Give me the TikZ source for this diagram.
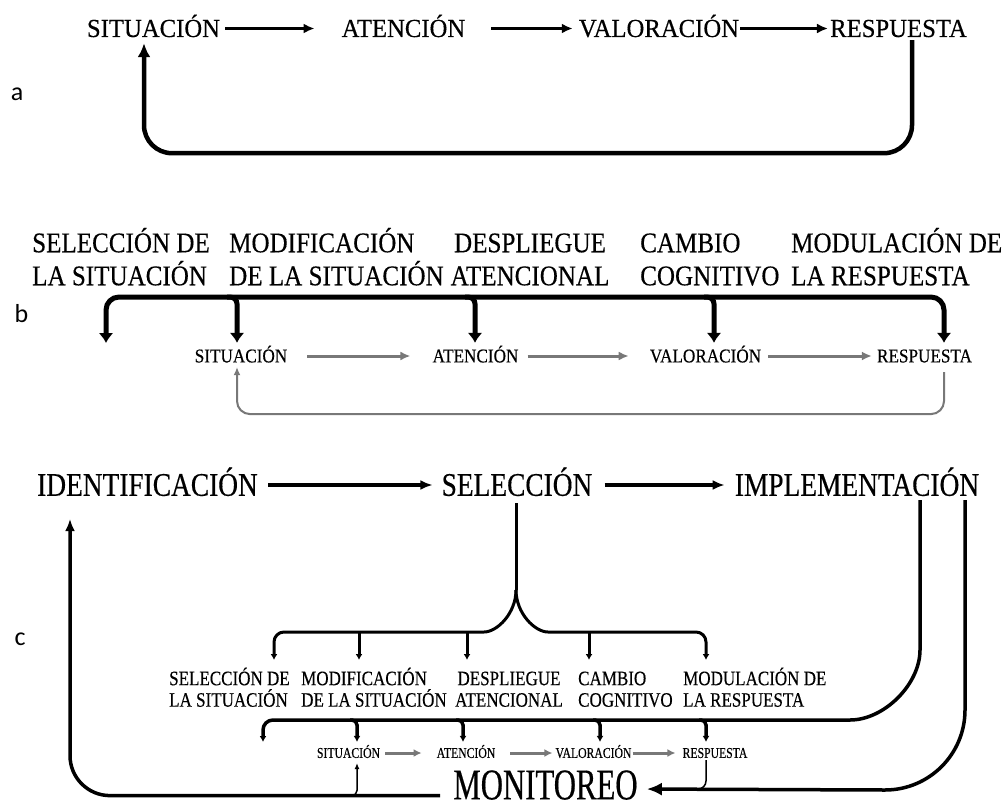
\documentclass[tikz,border=0pt]{standalone}
\usepackage{fontspec}
\usetikzlibrary{arrows.meta}
\newfontfamily\serifA[FakeStretch=0.95,FakeBold=0.35]{Liberation Serif}
\newfontfamily\serifB[FakeStretch=0.88,FakeBold=0.35]{Liberation Serif}
\newfontfamily\serifL[FakeStretch=0.83,FakeBold=0.35]{Liberation Serif}
\newfontfamily\serifC[FakeStretch=0.83,FakeBold=0.35]{Liberation Serif}
\newfontfamily\serifD[FakeStretch=0.78,FakeBold=0.35]{Liberation Serif}
\newfontfamily\serifM[FakeStretch=0.70,FakeBold=0.35]{Liberation Serif}
\newfontfamily\panelfont{Carlito}
\definecolor{arrowgray}{RGB}{120,120,120}
\newcommand\lblstrut{\rule{0pt}{0.95em}}

\begin{document}
\begin{tikzpicture}[x=1pt, y=-1pt,
   txtA/.style={font={\serifA\fontsize{26}{28}\selectfont}, inner sep=0pt, text height=17pt, text depth=0pt},
   lblB/.style={font={\serifB\fontsize{28.5}{33}\selectfont\lineskiplimit=-100pt}, inner sep=0pt,
                align=left, anchor=north west},
   smallB/.style={font={\serifB\fontsize{19.5}{21}\selectfont}, inner sep=0pt, text height=12.8pt, text depth=0pt},
   txtC/.style={font={\serifC\fontsize{33}{35}\selectfont}, inner sep=0pt, text height=21.6pt, text depth=0pt},
   lblC/.style={font={\serifL\fontsize{20.5}{21.5}\selectfont\lineskiplimit=-100pt}, inner sep=0pt,
                align=left, anchor=north west},
   smallC/.style={font={\serifD\fontsize{15}{16}\selectfont}, inner sep=0pt, text height=9.8pt, text depth=0pt},
   monitor/.style={font={\serifM\fontsize{44}{46}\selectfont}, inner sep=0pt, text height=28.8pt, text depth=0pt},
   panel/.style={font={\panelfont\fontsize{26}{28}\selectfont}, inner sep=0pt, anchor=base},
   flowA/.style={line width=3.5pt, -{Latex[length=11pt,width=10pt]}},
   loopA/.style={line width=4.5pt, -{Latex[length=14pt,width=13pt]}},
   thickbar/.style={line width=5pt},
   flowB/.style={color=arrowgray, line width=3pt, -{Latex[length=10pt,width=9pt]}},
   feedB/.style={color=arrowgray, line width=2pt, -{Latex[length=8pt,width=7pt]}},
   flowC/.style={line width=3.5pt, -{Latex[length=12pt,width=10pt]}},
   braceC/.style={line width=3pt},
   barC/.style={line width=3.5pt},
   loopC/.style={line width=3.5pt},
   flowCs/.style={color=arrowgray, line width=3pt, -{Latex[length=8pt,width=8pt]}},
   thinC/.style={line width=1.5pt}]

   \useasboundingbox[fill=white] (0,0) rectangle (1003,808);

   % a
   \node[panel] (tagA) at (17,100) {a};
   \node[txtA] (sitA) at (153.5,28.5) {SITUACIÓN};
   \node[txtA] (atenA) at (403.5,28.5) {ATENCIÓN};
   \node[txtA] (valA) at (659,28.5) {VALORACIÓN};
   \node[txtA] (respA) at (898.5,28.5) {RESPUESTA};

   \draw[flowA, shorten <=5pt, shorten >=27pt] (sitA) -- (atenA);
   \draw[flowA, shorten <=26pt, shorten >=6pt] (atenA) -- (valA);
   \draw[flowA, shorten <=1pt, shorten >=2pt] (valA) -- (respA);
   \draw[loopA, rounded corners=28pt] ([xshift=13.5pt,yshift=-3pt]respA.south)
      -- ++(0,113) -| ([xshift=-9.5pt,yshift=-6pt]sitA.south);

   % b
   \node[panel] (tagB) at (21.5,322) {b};
   \node[lblB] (selB) at (32,225) {\lblstrut SELECCIÓN DE\\LA SITUACIÓN};
   \node[lblB] (modB) at (229,225) {\lblstrut MODIFICACIÓN\\DE LA SITUACIÓN};
   \node[lblB, align=center, anchor=north] (desB) at (530,225) {\lblstrut DESPLIEGUE\\ATENCIONAL};
   \node[lblB] (camB) at (640,225) {\lblstrut CAMBIO\\COGNITIVO};
   \node[lblB] (modulB) at (791,225) {\lblstrut MODULACIÓN DE\\LA RESPUESTA};

   \node[smallB] (sitB) at (241,356) {SITUACIÓN};
   \node[smallB] (atenB) at (475.5,356) {ATENCIÓN};
   \node[smallB] (valB) at (705.5,356) {VALORACIÓN};
   \node[smallB] (respB) at (924.5,356) {RESPUESTA};

   \coordinate (barB) at (0,297);
   \coordinate (freeB) at (106,343);
   \draw[thickbar, {Latex[length=10pt,width=15pt]}-{Latex[length=10pt,width=15pt]}, rounded corners=13pt]
      (freeB) |- ([xshift=19.5pt]respB.north |- barB) -- ([xshift=19.5pt,yshift=6.6pt]respB.north);
   \foreach \n/\dx in {sitB/-4, atenB/-0.5, valB/8.5}
      \draw[thickbar, -{Latex[length=10pt,width=15pt]}, rounded corners=7pt]
         ([xshift={(\dx-10)*1pt}]\n.north |- barB) -| ([xshift={\dx*1pt},yshift=6.6pt]\n.north);

   \draw[flowB, shorten <=20pt, shorten >=22pt] (sitB) -- (atenB);
   \draw[flowB, shorten <=9pt, shorten >=21pt] (atenB) -- (valB);
   \draw[flowB, shorten <=7pt, shorten >=5pt] (valB) -- (respB);
   \draw[feedB, rounded corners=13pt] ([xshift=19.5pt,yshift=-9.5pt]respB.south)
      -- ++(0,42) -| ([xshift=-4pt,yshift=-4.5pt]sitB.south);

   % c
   \node[panel] (tagC) at (20,645) {c};
   \node[txtC] (idC) at (147.5,485) {IDENTIFICACIÓN};
   \node[txtC] (selC) at (517,485) {SELECCIÓN};
   \node[txtC] (impC) at (857,485) {IMPLEMENTACIÓN};
   \draw[flowC, shorten <=10pt, shorten >=9pt] (idC) -- (selC);
   \draw[flowC, shorten <=12pt, shorten >=10pt] (selC) -- (impC);

   \node[lblC] (selCl) at (169,665.5) {\lblstrut SELECCIÓN DE\\LA SITUACIÓN};
   \node[lblC] (modCl) at (301,665.5) {\lblstrut MODIFICACIÓN\\DE LA SITUACIÓN};
   \node[lblC, align=center, anchor=north] (desCl) at (509,665.5) {\lblstrut DESPLIEGUE\\ATENCIONAL};
   \node[lblC] (camCl) at (578,665.5) {\lblstrut CAMBIO\\COGNITIVO};
   \node[lblC] (modulCl) at (683,665.5) {\lblstrut MODULACIÓN DE\\LA RESPUESTA};

   \draw[braceC] ([xshift=-1pt,yshift=-7pt]selC.south) -- ++(0,87) coordinate (forkC);
   \draw[braceC, -{Latex[length=6pt,width=7pt]}, rounded corners=10pt, shorten >=5.5pt]
      (forkC) arc[start angle=0, end angle=-90, radius=42pt] -- (274,632) -- (274,632 |- selCl.north);
   \draw[braceC, -{Latex[length=6pt,width=7pt]}, rounded corners=10pt, shorten >=5.5pt]
      (forkC) arc[start angle=180, end angle=270, radius=42pt] -- (706,632) -- (706,632 |- modulCl.north);
   \foreach \x/\n in {359/modCl, 467/desCl, 589/camCl}
      \draw[braceC, -{Latex[length=6pt,width=7pt]}, shorten >=5.5pt] (\x,632) -- (\x,632 |- \n.north);

   \node[smallC] (sitC) at (348.5,753) {SITUACIÓN};
   \node[smallC] (atenC) at (466,753) {ATENCIÓN};
   \node[smallC] (valC) at (593.5,753) {VALORACIÓN};
   \node[smallC] (respC) at (715,753) {RESPUESTA};
   \draw[flowCs, shorten <=5pt, shorten >=15pt] (sitC) -- (atenC);
   \draw[flowCs, shorten <=15pt, shorten >=3pt] (atenC) -- (valC);
   \draw[flowCs, shorten <=1pt, shorten >=7pt] (valC) -- (respC);

   \coordinate (barC) at (0,720);
   \coordinate (freeC) at (263,742);
   \draw[barC, -{Latex[length=6pt,width=7pt]}, rounded corners=10pt]
      ([xshift=63pt,yshift=-4pt]impC.south) -- (920,640)
      arc[start angle=0, end angle=-90, radius=80pt] -- (freeC |- barC) -- (freeC);
   \foreach \n/\dx in {sitC/8.5, atenC/-3, valC/6.5, respC/-9}
      \draw[barC, -{Latex[length=6pt,width=7pt]}, rounded corners=5pt]
         ([xshift={(\dx-7)*1pt}]\n.north |- barC) -| ([xshift={\dx*1pt},yshift=6pt]\n.north);

   \node[monitor] (monC) at (545.5,785) {MONITOREO};

   \draw[thinC, rounded corners=8pt] ([xshift=-9pt,yshift=-2pt]respC.south) |- ([xshift=30pt,yshift=-4pt]monC.east);
   \draw[loopC, -{Latex[length=15pt,width=13pt]}, shorten >=9pt] ([xshift=108pt,yshift=-4pt]impC.south)
      -- ++(0,210) arc[start angle=0, end angle=-90, radius=80pt] -- ([yshift=-4pt]monC.east);
   \draw[loopC, -{Latex[length=12pt,width=10pt]}, rounded corners=40pt]
      ([xshift=-13pt,yshift=4pt]monC.south west) -| ([xshift=-77.5pt,yshift=-23pt]idC.south);
   \coordinate (joinC) at (347,795.5);
   \draw[thinC, -{Latex[length=6pt,width=5pt]}, rounded corners=5pt]
      (joinC) -| ([xshift=8.5pt,yshift=-5pt]sitC.south);
\end{tikzpicture}
\end{document}
